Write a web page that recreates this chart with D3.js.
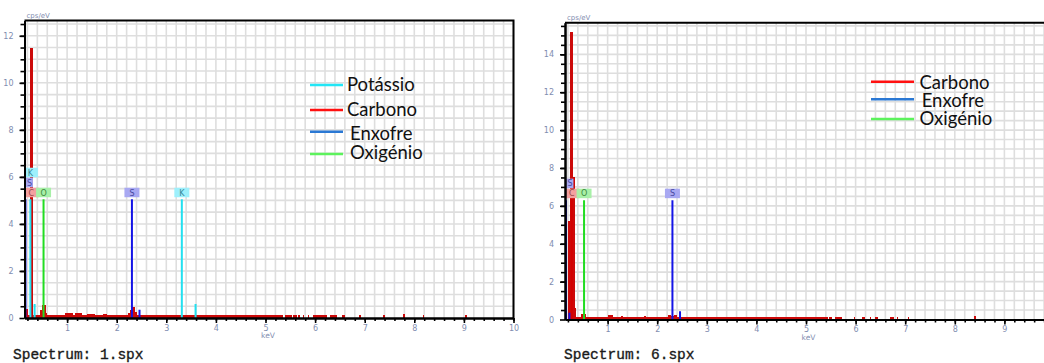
<!DOCTYPE html>
<html>
<head>
<meta charset="utf-8">
<script src="https://cdn.jsdelivr.net/npm/d3@7"></script>
<style>
  html, body { margin: 0; padding: 0; background: #fff; }
  svg { display: block; }
</style>
</head>
<body>
<svg id="chart" width="1044" height="363"></svg>
<script>
// ---- data -------------------------------------------------------------

// Energy axis labels (keV)
const energyTicks = [1, 2, 3, 4, 5, 6, 7, 8, 9, 10];

// Intensity axis labels (cps/eV)
const yTicks1 = [0, 2, 4, 6, 8, 10, 12];
const yTicks6 = [0, 2, 4, 6, 8, 10, 12, 14];

// Spectrum 1.spx: channel groups as [startKeV, endKeV, cps/eV]
const spectrum1 = [
  [0.17, 0.21, 0.4], [0.21, 0.252, 0.12], [0.252, 0.306, 11.5], [0.306, 0.318, 6.0],
  [0.318, 0.46, 0.14], [0.46, 0.50, 0.35], [0.50, 0.57, 0.55], [0.57, 0.60, 0.22],
  [0.60, 0.96, 0.13], [0.96, 1.11, 0.2], [1.11, 1.16, 0.13], [1.16, 1.31, 0.2],
  [1.31, 1.41, 0.13], [1.41, 1.56, 0.19], [1.56, 1.73, 0.13], [1.73, 1.81, 0.19],
  [1.81, 2.22, 0.13], [2.22, 2.27, 0.22], [2.27, 2.30, 0.35], [2.30, 2.36, 0.45],
  [2.36, 2.40, 0.25], [2.40, 5.36, 0.13],
  [5.39, 5.53, 0.12], [5.56, 5.63, 0.12], [5.66, 5.69, 0.12], [5.75, 5.78, 0.12],
  [5.85, 5.88, 0.12], [5.96, 6.23, 0.13], [6.30, 6.44, 0.13], [6.54, 6.60, 0.12],
  [6.89, 6.92, 0.13], [7.37, 7.40, 0.13], [7.77, 7.81, 0.18], [8.17, 8.20, 0.13],
  [9.03, 9.06, 0.13]
];

// Element lines for 1.spx: [element, keV, cps/eV, labelled]
const lines1 = [
  ["C", 0.277, 5.05, true],
  ["O", 0.525, 5.05, true],
  ["S", 0.16, 5.05, true],
  ["S", 2.307, 5.05, true],
  ["K", 0.26, 5.05, true],
  ["K", 3.313, 5.05, true],
  ["K", 0.345, 0.6, false],
  ["S", 2.46, 0.35, false],
  ["K", 3.59, 0.6, false]
];

// Spectrum 6.spx: channel groups as [startKeV, endKeV, cps/eV]
const spectrum6 = [
  [0.20, 0.24, 5.2], [0.24, 0.30, 15.2], [0.30, 0.345, 7.5], [0.345, 0.365, 0.6],
  [0.365, 0.47, 0.14], [0.47, 0.57, 0.27], [0.57, 1.01, 0.14], [1.01, 1.11, 0.22],
  [1.11, 1.26, 0.14], [1.26, 1.31, 0.19], [1.31, 1.74, 0.14], [1.74, 1.78, 0.18],
  [1.78, 2.22, 0.14], [2.22, 2.28, 0.24], [2.28, 2.33, 0.16], [2.33, 2.40, 0.24],
  [2.40, 5.45, 0.14],
  [5.47, 5.52, 0.14], [5.59, 5.72, 0.14], [5.96, 5.99, 0.14], [6.12, 6.19, 0.14],
  [6.29, 6.32, 0.14], [6.39, 6.46, 0.14], [6.69, 6.77, 0.14], [6.83, 6.86, 0.14],
  [7.05, 7.08, 0.14], [8.39, 8.42, 0.16]
];

// Element lines for 6.spx: [element, keV, cps/eV, labelled]
const lines6 = [
  ["C", 0.277, 6.3, true],
  ["O", 0.525, 6.3, true],
  ["S", 0.16, 6.3, true],
  ["S", 2.307, 6.3, true],
  ["S", 0.23, 0.35, false],
  ["S", 2.46, 0.44, false]
];

// Legend entries: element key and name
const legendKeys1 = ["K", "C", "S", "O"];
const legendNames1 = ["Potássio", "Carbono", "Enxofre", "Oxigénio"];
const legendKeys6 = ["C", "S", "O"];
const legendNames6 = ["Carbono", "Enxofre", "Oxigénio"];

// ---- styles -----------------------------------------------------------

const lineColor = { C: "#d40000", O: "#22dd22", S: "#1414e6", K: "#22e0f0" };
const boxFill   = { C: "#f4a0a0", O: "#a8f0a8", S: "#a8a8f2", K: "#9ef0fc" };
const boxInk    = { C: "#9a4848", O: "#3d8a3d", S: "#4848a0", K: "#3a8898" };
const legendColor = { C: "#ff1010", O: "#5cf25c", S: "#2a78d4", K: "#22e6f6" };
const spectrumColor = "#cc0a0a";
const tickInk = "#7f8db0";
const pageWidth = 1044;

const svg = d3.select("#chart");
const defs = svg.append("defs");

function drawChart(cfg) {
  const g = svg.append("g");
  const x = d3.scaleLinear().domain([cfg.e0, 10]).range([cfg.left, cfg.right]);
  const y = d3.scaleLinear().domain([0, cfg.yMax]).range([cfg.bottom, cfg.top]);

  defs.append("clipPath").attr("id", "clip-" + cfg.id)
    .append("rect")
    .attr("x", cfg.left).attr("y", cfg.top)
    .attr("width", cfg.right - cfg.left).attr("height", cfg.bottom - cfg.top);

  // grid: 0.2 keV by 0.5 cps/eV
  const gx = d3.range(0.2, 10.001, 0.2).filter(v => v > cfg.e0);
  const gy = d3.range(0.5, cfg.yMax, 0.5);
  const grid = g.append("g").attr("stroke", "#dedede").attr("stroke-width", 1.6);
  grid.selectAll("line.v").data(gx).join("line")
    .attr("x1", d => x(d)).attr("x2", d => x(d))
    .attr("y1", cfg.top).attr("y2", cfg.bottom);
  grid.selectAll("line.h").data(gy).join("line")
    .attr("x1", cfg.left).attr("x2", cfg.right)
    .attr("y1", d => y(d)).attr("y2", d => y(d));

  const plot = g.append("g").attr("clip-path", "url(#clip-" + cfg.id + ")");

  // measured spectrum as filled channel blocks
  plot.append("path")
    .attr("fill", spectrumColor)
    .attr("shape-rendering", "crispEdges")
    .attr("d", cfg.spectrum.map(([a, b, v]) =>
      `M${x(a)},${y(0)}V${y(v)}H${x(b)}V${y(0)}Z`).join(""));

  // element line markers
  plot.selectAll("line.mark").data(cfg.lines).join("line")
    .attr("x1", d => x(d[1])).attr("x2", d => x(d[1]))
    .attr("y1", y(0)).attr("y2", d => y(d[2]))
    .attr("stroke", d => lineColor[d[0]])
    .attr("stroke-width", 2);

  // element label boxes, stacked upward when they collide
  const rows = [];
  const labels = cfg.lines.filter(d => d[3]).map(d => {
    const cx = x(d[1]);
    let r = 0;
    while ((rows[r] || []).some(c => Math.abs(c - cx) < 11)) r++;
    (rows[r] = rows[r] || []).push(cx);
    return { el: d[0], cx, top: y(d[2]) - 11.5 - 10 * r };
  });
  const lab = plot.selectAll("g.lab").data(labels).join("g");
  lab.append("rect")
    .attr("x", d => d.cx - 7.5).attr("y", d => d.top)
    .attr("width", 15).attr("height", 9.5)
    .attr("fill", d => boxFill[d.el]);
  lab.append("text")
    .attr("x", d => Math.max(d.cx, cfg.left + 5)).attr("y", d => d.top + 7.8)
    .attr("text-anchor", "middle")
    .attr("font-family", "DejaVu Sans, sans-serif").attr("font-size", 8)
    .attr("fill", d => boxInk[d.el])
    .text(d => d.el);

  // axes
  const minorX = d3.range(0.2, 10.001, 0.2).filter(v => v > cfg.e0);
  const minorY = d3.range(0.5, cfg.yMax, 0.5);
  const shownTicks = energyTicks.filter(v => x(v) < pageWidth - 6);

  const xMinor = g.append("g").attr("transform", `translate(0,${cfg.bottom})`)
    .call(d3.axisBottom(x).tickValues(minorX).tickSize(3).tickSizeOuter(0).tickFormat(""));
  const xAxis = g.append("g").attr("transform", `translate(0,${cfg.bottom})`)
    .call(d3.axisBottom(x).tickValues(shownTicks).tickSize(5).tickSizeOuter(0)
      .tickFormat(d3.format("d")));
  const yMinor = g.append("g").attr("transform", `translate(${cfg.left},0)`)
    .call(d3.axisLeft(y).tickValues(minorY).tickSize(4).tickSizeOuter(0).tickFormat(""));
  const yAxis = g.append("g").attr("transform", `translate(${cfg.left},0)`)
    .call(d3.axisLeft(y).tickValues(cfg.yTicks).tickSize(5).tickSizeOuter(0).tickPadding(6));

  [xMinor, xAxis, yMinor, yAxis].forEach(a => {
    a.select(".domain").attr("stroke", "#000").attr("stroke-width", 2);
    a.selectAll(".tick line").attr("stroke", "#000").attr("stroke-width", 1.6);
    a.selectAll(".tick text")
      .attr("font-family", "DejaVu Sans, sans-serif").attr("font-size", 8)
      .attr("fill", tickInk);
  });
  xAxis.selectAll(".tick text").attr("y", 7);

  // frame: top and right edges
  g.append("path")
    .attr("d", `M${cfg.left},${cfg.top}H${cfg.right}V${cfg.bottom}`)
    .attr("fill", "none").attr("stroke", "#000").attr("stroke-width", 2);

  // unit labels
  g.append("text").attr("x", cfg.left + 2).attr("y", cfg.top - 3)
    .attr("font-family", "DejaVu Sans, sans-serif").attr("font-size", 7)
    .attr("fill", tickInk).text("cps/eV");
  g.append("text").attr("x", x(5.05)).attr("y", cfg.bottom + 20)
    .attr("text-anchor", "middle")
    .attr("font-family", "DejaVu Sans, sans-serif").attr("font-size", 7.5)
    .attr("fill", tickInk).text("keV");

  // legend
  const leg = g.append("g");
  cfg.legendKeys.forEach((k, i) => {
    leg.append("line")
      .attr("x1", cfg.legend.x1).attr("x2", cfg.legend.x2)
      .attr("y1", cfg.legend.lineY[i]).attr("y2", cfg.legend.lineY[i])
      .attr("stroke", legendColor[k]).attr("stroke-width", 2.6);
    leg.append("text")
      .attr("x", cfg.legend.textX[i]).attr("y", cfg.legend.textY[i])
      .attr("font-family", "Lato, 'Open Sans', sans-serif").attr("font-size", 18.5)
      .attr("fill", "#111")
      .text(cfg.legendNames[i]);
  });

  // spectrum file caption
  svg.append("text")
    .attr("x", cfg.captionX).attr("y", 358.5)
    .attr("font-family", "'Liberation Mono', 'DejaVu Sans Mono', monospace")
    .attr("font-size", 14.5)
    .attr("fill", "#1a1a1a").attr("stroke", "#1a1a1a").attr("stroke-width", 0.35)
    .text(cfg.caption);
}

drawChart({
  id: "s1", e0: 0.141, left: 24.5, right: 513.5, top: 20.5, bottom: 318,
  yMax: 12.65, yTicks: yTicks1,
  spectrum: spectrum1, lines: lines1,
  legendKeys: legendKeys1, legendNames: legendNames1,
  legend: { x1: 310, x2: 343, lineY: [85, 110, 131.7, 154],
            textX: [347, 347, 350, 350], textY: [90.5, 115.5, 139.5, 158.5] },
  caption: "Spectrum: 1.spx", captionX: 13
});

drawChart({
  id: "s6", e0: 0.141, left: 565, right: 1054, top: 22.7, bottom: 319.5,
  yMax: 15.67, yTicks: yTicks6,
  spectrum: spectrum6, lines: lines6,
  legendKeys: legendKeys6, legendNames: legendNames6,
  legend: { x1: 871, x2: 914, lineY: [81.7, 99.3, 119],
            textX: [919.5, 921.7, 919.5], textY: [88.5, 107, 124.5] },
  caption: "Spectrum: 6.spx", captionX: 564
});
</script>
</body>
</html>
